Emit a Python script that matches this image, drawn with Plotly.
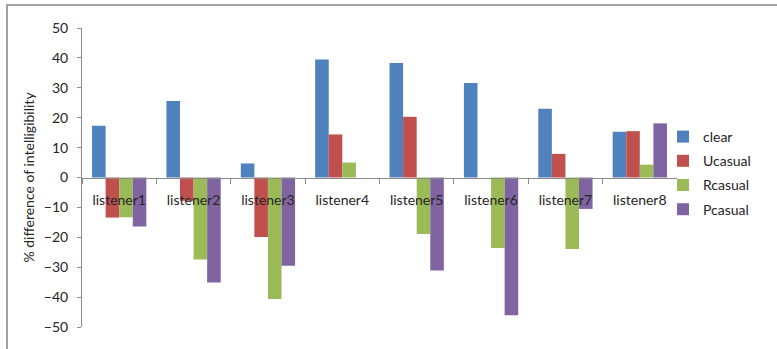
import plotly.graph_objects as go

# Intelligibility differences per listener, by speaking style
listeners = ["listener1", "listener2", "listener3", "listener4",
             "listener5", "listener6", "listener7", "listener8"]
clear = [17.3, 25.6, 4.7, 39.5, 38.3, 31.6, 23.0, 15.3]
ucasual = [-13.4, -7.8, -19.9, 14.4, 20.3, 0.0, 7.9, 15.5]
rcasual = [-13.3, -27.4, -40.6, 5.0, -18.9, -23.6, -23.9, 4.3]
pcasual = [-16.4, -35.1, -29.5, 0.0, -31.1, -46.1, -10.5, 18.1]

y_ticks = [-50, -40, -30, -20, -10, 0, 10, 20, 30, 40, 50]

series = [
    ("clear", clear, "#4F81BD"),
    ("Ucasual", ucasual, "#C0504D"),
    ("Rcasual", rcasual, "#9BBB59"),
    ("Pcasual", pcasual, "#8064A2"),
]

FONT = "Lato, 'Open Sans', sans-serif"
TEXT = "#262626"
AXIS = "#8a8a8a"

fig = go.Figure()
for name, vals, color in series:
    fig.add_trace(go.Bar(
        x=listeners, y=vals, name=name, legendgroup=name,
        marker=dict(color=color, line=dict(width=0)),
    ))

W, H = 777, 349
L, R, T, B = 82, 100, 28, 22
pw, ph = W - L - R, H - T - B

fig.update_layout(
    width=W, height=H,
    margin=dict(l=L, r=R, t=T, b=B, autoexpand=False),
    paper_bgcolor="white", plot_bgcolor="white",
    barmode="group", bargap=0.27, bargroupgap=0,
    font=dict(family=FONT, size=13, color=TEXT),
    showlegend=True,
    legend=dict(
        x=(663 - L) / pw, y=(ph - (121 - T)) / ph,
        xanchor="left", yanchor="top",
        font=dict(family=FONT, size=14, color=TEXT),
        tracegroupgap=3, itemwidth=30,
        bgcolor="rgba(0,0,0,0)",
    ),
    xaxis=dict(
        anchor="free", position=0.5,
        showline=True, linecolor=AXIS, linewidth=1,
        ticks="outside", ticklen=5, tickcolor=AXIS, tickson="boundaries",
        tickfont=dict(family=FONT, size=14, color=TEXT),
        ticklabelstandoff=10,
        showgrid=False, zeroline=False, fixedrange=True,
    ),
    yaxis=dict(
        range=[-50, 50], tickvals=y_ticks,
        showline=True, linecolor=AXIS, linewidth=1,
        ticks="outside", ticklen=4, tickcolor=AXIS,
        tickfont=dict(family=FONT, size=14, color=TEXT),
        ticklabelstandoff=6,
        showgrid=False, zeroline=False,
        title=dict(text="% difference of intelligibility",
                   font=dict(family=FONT, size=14, color=TEXT), standoff=5),
    ),
)

# Chart-area frame (top and left edges fall inside the page)
fig.add_shape(type="rect", xref="paper", yref="paper",
              x0=(7 - L) / pw, x1=3, y0=-3, y1=(H - B - 5) / ph,
              line=dict(color="#888888", width=1.6), layer="below")

fig.write_html("out.html")
